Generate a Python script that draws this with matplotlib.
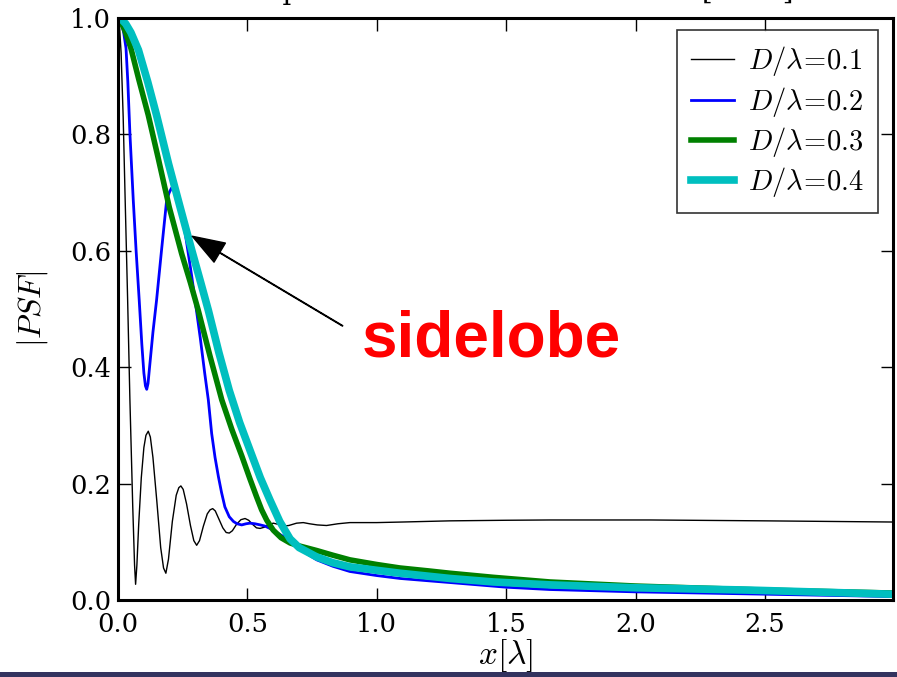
import matplotlib
matplotlib.use("Agg")
import matplotlib.pyplot as plt
from matplotlib.patches import Rectangle

plt.rcParams['font.family'] = 'DejaVu Serif'
plt.rcParams['mathtext.fontset'] = 'cm'

# |PSF| profiles for four aperture sizes
x_01 = [0.0, 0.006, 0.012, 0.020, 0.027, 0.037, 0.046, 0.057, 0.064, 0.068, 0.073,
        0.080, 0.090, 0.100, 0.108, 0.117, 0.125, 0.135, 0.150, 0.165, 0.176, 0.185,
        0.195, 0.210, 0.225, 0.235, 0.243, 0.252, 0.265, 0.280, 0.293, 0.304, 0.315,
        0.330, 0.345, 0.356, 0.366, 0.376, 0.390, 0.405, 0.418, 0.430, 0.442, 0.458,
        0.475, 0.491, 0.505, 0.520, 0.535, 0.549, 0.565, 0.580, 0.600, 0.620, 0.639,
        0.660, 0.690, 0.716, 0.740, 0.770, 0.806, 0.850, 0.896, 1.0, 1.1, 1.283,
        1.5, 1.669, 2.056, 2.5, 2.99]
y_01 = [1.0, 0.985, 0.94, 0.83, 0.70, 0.52, 0.344, 0.16, 0.06, 0.027, 0.06,
        0.13, 0.21, 0.262, 0.283, 0.290, 0.280, 0.245, 0.17, 0.09, 0.055, 0.046,
        0.07, 0.135, 0.18, 0.193, 0.196, 0.19, 0.165, 0.128, 0.102, 0.094, 0.102,
        0.127, 0.148, 0.155, 0.157, 0.153, 0.139, 0.124, 0.116, 0.115, 0.119, 0.130,
        0.138, 0.140, 0.137, 0.130, 0.124, 0.123, 0.125, 0.129, 0.132, 0.130, 0.127,
        0.128, 0.132, 0.133, 0.131, 0.129, 0.128, 0.131, 0.133, 0.133, 0.134, 0.136,
        0.137, 0.1375, 0.1375, 0.136, 0.134]

x_02 = [0.0, 0.008, 0.014, 0.022, 0.031, 0.038, 0.046, 0.053, 0.059, 0.070, 0.082,
        0.092, 0.100, 0.106, 0.111, 0.116, 0.122, 0.135, 0.149, 0.168, 0.188, 0.198,
        0.207, 0.225, 0.245, 0.265, 0.285, 0.318, 0.335, 0.349, 0.362, 0.375, 0.388,
        0.400, 0.413, 0.430, 0.446, 0.460, 0.478, 0.495, 0.510, 0.529, 0.550, 0.568,
        0.587, 0.610, 0.639, 0.670, 0.703, 0.735, 0.768, 0.830, 0.896, 1.0, 1.09,
        1.283, 1.5, 1.669, 2.0, 2.5, 2.99]
y_02 = [1.0, 0.998, 0.99, 0.975, 0.948, 0.89, 0.802, 0.74, 0.687, 0.60, 0.515,
        0.44, 0.39, 0.368, 0.362, 0.372, 0.40, 0.46, 0.515, 0.60, 0.687, 0.70,
        0.708, 0.705, 0.67, 0.615, 0.556, 0.45, 0.39, 0.344, 0.286, 0.245, 0.212,
        0.185, 0.160, 0.143, 0.135, 0.131, 0.129, 0.131, 0.132, 0.131, 0.129, 0.127,
        0.123, 0.117, 0.109, 0.099, 0.089, 0.078, 0.069, 0.058, 0.049, 0.042, 0.037,
        0.030, 0.022, 0.018, 0.014, 0.010, 0.006]

x_03 = [0.0, 0.010, 0.025, 0.050, 0.080, 0.117, 0.155, 0.198, 0.246, 0.280, 0.310,
        0.355, 0.401, 0.440, 0.478, 0.510, 0.535, 0.555, 0.575, 0.600, 0.630, 0.665,
        0.700, 0.768, 0.830, 0.896, 1.0, 1.09, 1.2, 1.283, 1.45, 1.669, 2.0, 2.5, 2.99]
y_03 = [1.0, 0.995, 0.98, 0.948, 0.895, 0.833, 0.76, 0.675, 0.595, 0.545, 0.498,
        0.42, 0.344, 0.293, 0.248, 0.208, 0.178, 0.155, 0.137, 0.12, 0.107, 0.098,
        0.093, 0.085, 0.077, 0.069, 0.061, 0.055, 0.05, 0.046, 0.039, 0.031, 0.024,
        0.017, 0.012]

x_04 = [0.0, 0.015, 0.030, 0.050, 0.079, 0.115, 0.149, 0.195, 0.240, 0.285, 0.320,
        0.349, 0.390, 0.430, 0.470, 0.512, 0.550, 0.587, 0.625, 0.665, 0.700, 0.768,
        0.830, 0.896, 1.0, 1.09, 1.283, 1.45, 1.669, 2.0, 2.44, 2.99]
y_04 = [1.0, 0.997, 0.99, 0.975, 0.945, 0.89, 0.833, 0.75, 0.675, 0.601, 0.545,
        0.498, 0.425, 0.36, 0.305, 0.255, 0.21, 0.172, 0.135, 0.105, 0.09, 0.074,
        0.064, 0.057, 0.051, 0.046, 0.037, 0.031, 0.026, 0.021, 0.017, 0.010]

fig = plt.figure(figsize=(8.97, 6.77), dpi=100)
ax = fig.add_axes([118/897, 77/677, 775/897, 582/677])

ax.plot(x_01, y_01, color='k', lw=1.0, label=r'$D/\lambda\!=\!0.1$')
ax.plot(x_02, y_02, color='b', lw=2.0, label=r'$D/\lambda\!=\!0.2$')
ax.plot(x_03, y_03, color='g', lw=4.0, label=r'$D/\lambda\!=\!0.3$')
ax.plot(x_04, y_04, color='c', lw=5.5, label=r'$D/\lambda\!=\!0.4$')

ax.set_xlim(0, 2.995)
ax.set_ylim(0, 1.0)
ax.set_xticks([0.0, 0.5, 1.0, 1.5, 2.0, 2.5])
ax.set_yticks([0.0, 0.2, 0.4, 0.6, 0.8, 1.0])
ax.tick_params(direction='in', length=9, width=1, top=True, right=True,
               labelsize=18.5)
ax.tick_params(axis='x', pad=9)
ax.tick_params(axis='y', pad=5)
for s in ax.spines.values():
    s.set_linewidth(2.2)

ax.set_xlabel(r'$x[\lambda]$', fontsize=24, labelpad=0)
ax.set_ylabel(r'$|PSF|$', fontsize=23, labelpad=14)

leg = ax.legend(loc='upper right', fontsize=20.5, fancybox=False,
                handlelength=1.5, borderpad=0.5, labelspacing=0.22,
                handletextpad=0.5, borderaxespad=0,
                bbox_to_anchor=(0.981, 0.979))
leg.get_frame().set_edgecolor('k')
leg.get_frame().set_linewidth(1.2)

ax.annotate('', xy=(0.287, 0.625), xytext=(0.868, 0.471),
            arrowprops=dict(facecolor='black', edgecolor='black', width=0.4,
                            headwidth=16, headlength=23, shrink=0.0))
ax.text(1.441, 0.447, 'sidelobe', color='red', fontsize=46, fontweight='bold',
        family='Liberation Sans', ha='center', va='center')

fig.text(793/897, 1.0015, r'Simulated amplitude of the PSF near focus [ a.u. ]',
         fontsize=20, ha='right', va='baseline')

fig.patches.append(Rectangle((0, 0), 1, 5/677, transform=fig.transFigure,
                             facecolor='#33335f', edgecolor='none'))

fig.savefig('out.png', dpi=100)
